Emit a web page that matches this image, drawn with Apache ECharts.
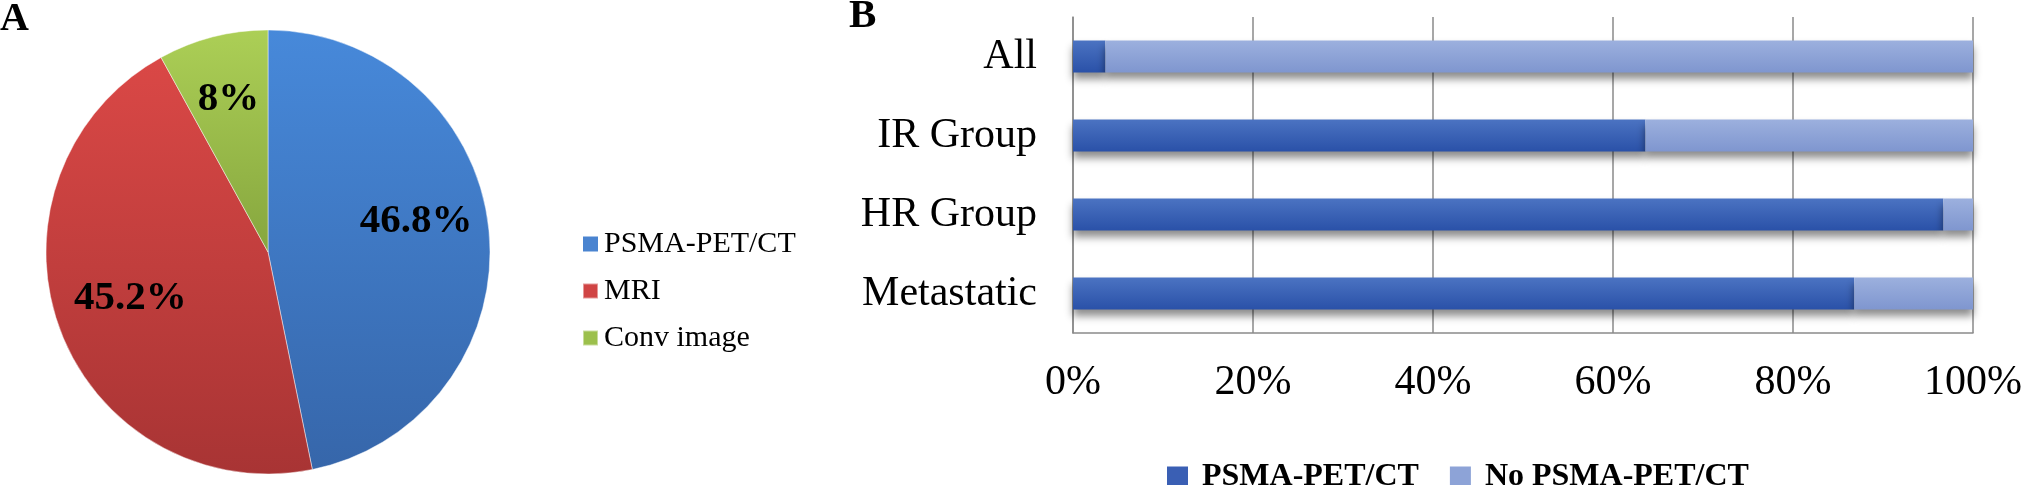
<!DOCTYPE html>
<html>
<head>
<meta charset="utf-8">
<script src="https://cdn.jsdelivr.net/npm/echarts@6/dist/echarts.min.js"></script>
<style>html,body{margin:0;padding:0;background:#fff}#c{width:2027px;height:485px}</style>
</head>
<body>
<div id="c"></div>
<script>
// Panel A: pie data
const pieNames = ['PSMA-PET/CT', 'MRI', 'Conv image'];
const pieValues = [46.8, 45.2, 8];
const pieLabels = ['46.8%', '45.2%', '8%'];
// Panel B: stacked bar data
const barCategories = ['All', 'IR Group', 'HR Group', 'Metastatic'];
const psmaValues = [3.6, 63.6, 96.7, 86.8];
const noPsmaValues = [96.4, 36.4, 3.3, 13.2];
const barSeriesNames = ['PSMA-PET/CT', 'No PSMA-PET/CT'];
const xTicks = [0, 20, 40, 60, 80, 100];

const serif = '"Liberation Serif", "DejaVu Serif", serif';
function vgrad(a, b) {
  return new echarts.graphic.LinearGradient(0, 0, 0, 1, [{offset: 0, color: a}, {offset: 1, color: b}]);
}
const pieColors = [
  vgrad('#4789da', '#3666aa'),
  vgrad('#da4846', '#a83434'),
  vgrad('#accf56', '#86a63e')
];
const pieLegendColors = ['#4a84d0', '#d04444', '#9cc04c'];
const pieLabelOffsets = [[-2, -15], [4, -6], [-2, -6]];

const chart = echarts.init(document.getElementById('c'), null, {renderer: 'canvas'});
chart.setOption({
  animation: false,
  backgroundColor: '#fff',
  title: [
    {text: 'A', left: 0, top: 0, textStyle: {fontFamily: serif, fontWeight: 'bold', fontSize: 40, color: '#000'}, padding: 0},
    {text: 'B', left: 849, top: -4, textStyle: {fontFamily: serif, fontWeight: 'bold', fontSize: 41, color: '#000'}, padding: 0}
  ],
  legend: [
    {
      orient: 'vertical', left: 577, top: 224, itemWidth: 15, itemHeight: 15, itemGap: 17,
      icon: 'rect', selectedMode: false,
      textStyle: {fontFamily: serif, fontSize: 30, color: '#000', padding: [0, 0, 0, 1]},
      data: pieNames.map((n, i) => ({name: n, itemStyle: {color: pieLegendColors[i]}}))
    },
    {
      orient: 'horizontal', left: 1162, top: 456, itemWidth: 21, itemHeight: 21, itemGap: 31,
      icon: 'rect', selectedMode: false,
      textStyle: {fontFamily: serif, fontSize: 32, fontWeight: 'bold', color: '#000', padding: [0, 0, 0, 9]},
      data: [
        {name: barSeriesNames[0], itemStyle: {color: '#3a5fb4'}},
        {name: barSeriesNames[1], itemStyle: {color: '#8da3d7'}}
      ]
    }
  ],
  grid: {left: 1073, right: 54, top: 17, bottom: 152},
  xAxis: {
    type: 'value', min: xTicks[0], max: xTicks[xTicks.length - 1], interval: 20,
    axisLine: {show: true, lineStyle: {color: '#8a8a8a', width: 1.5}},
    axisTick: {show: false},
    splitLine: {show: true, lineStyle: {color: '#8a8a8a', width: 1.5}},
    axisLabel: {formatter: '{value}%', fontFamily: serif, fontSize: 42, color: '#000', margin: 29}
  },
  yAxis: {
    type: 'category', data: barCategories, inverse: true,
    axisLine: {show: true, lineStyle: {color: '#8a8a8a', width: 1.5}},
    axisTick: {show: false},
    axisLabel: {fontFamily: serif, fontSize: 42, color: '#000', margin: 36}
  },
  series: [
    {
      type: 'pie', center: [268, 252], radius: [0, 222], startAngle: 90, clockwise: true,
      silent: true, legendHoverLink: false,
      itemStyle: {borderColor: 'rgba(255,255,255,0.45)', borderWidth: 1},
      label: {show: false}, labelLine: {show: false}, emphasis: {disabled: true},
      data: pieNames.map((n, i) => ({name: n, value: pieValues[i], itemStyle: {color: pieColors[i]}}))
    },
    {
      type: 'pie', center: [268, 252], radius: [120, 176], startAngle: 90, clockwise: true,
      silent: true, legendHoverLink: false,
      itemStyle: {color: 'rgba(0,0,0,0)', borderWidth: 0},
      label: {show: true, position: 'inside', fontFamily: serif, fontWeight: 'bold', fontSize: 41, color: '#000',
        formatter: p => pieLabels[p.dataIndex]},
      labelLine: {show: false}, emphasis: {disabled: true},
      data: pieNames.map((n, i) => ({name: n, value: pieValues[i], label: {offset: pieLabelOffsets[i]}}))
    },
    {
      name: barSeriesNames[0], type: 'bar', stack: 'total', barWidth: 32, silent: true,
      itemStyle: {color: vgrad('#4b73c2', '#2a51a8'), shadowColor: 'rgba(0,0,0,0.45)', shadowBlur: 8, shadowOffsetY: 6},
      data: psmaValues
    },
    {
      name: barSeriesNames[1], type: 'bar', stack: 'total', barWidth: 32, silent: true,
      itemStyle: {color: vgrad('#9cb0de', '#7f96cf'), shadowColor: 'rgba(0,0,0,0.45)', shadowBlur: 8, shadowOffsetY: 6},
      data: noPsmaValues
    }
  ]
});
</script>
</body>
</html>
